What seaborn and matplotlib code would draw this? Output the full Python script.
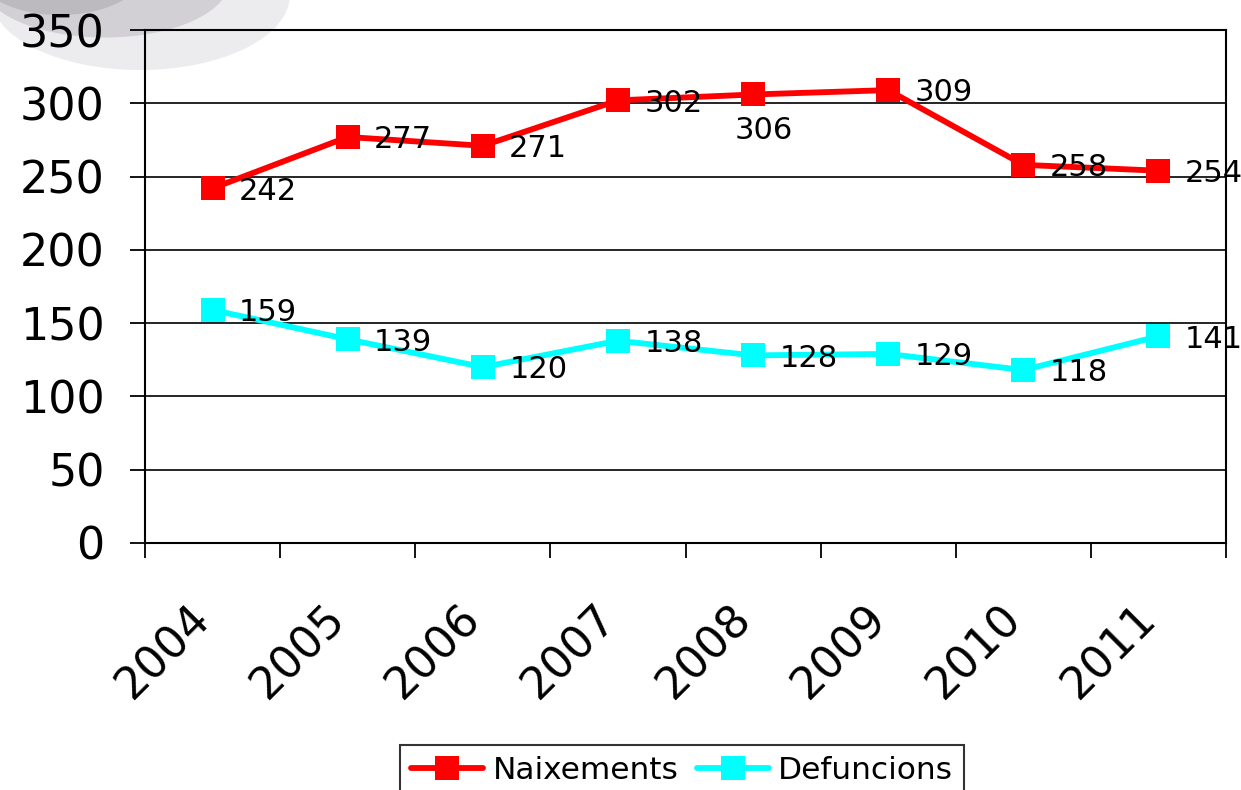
import numpy as np
import pandas as pd
import matplotlib
matplotlib.use("Agg")
import matplotlib.pyplot as plt
from matplotlib.patches import Ellipse
import seaborn as sns

years = [2004, 2005, 2006, 2007, 2008, 2009, 2010, 2011]
naixements = [242, 277, 271, 302, 306, 309, 258, 254]
defuncions = [159, 139, 120, 138, 128, 129, 118, 141]
series_names = ["Naixements", "Defuncions"]
y_ticks = [0, 50, 100, 150, 200, 250, 300, 350]

df = pd.DataFrame({
    "Any": years * 2,
    "Valor": naixements + defuncions,
    "Serie": [series_names[0]] * len(years) + [series_names[1]] * len(years),
})

sns.set_style("white")
plt.rcParams["font.family"] = ["DejaVu Sans"]
plt.rcParams["text.color"] = "black"
plt.rcParams["xtick.color"] = "black"
plt.rcParams["ytick.color"] = "black"
plt.rcParams["axes.labelcolor"] = "black"

fig = plt.figure(figsize=(12.41, 7.9), dpi=100)
ax = fig.add_axes([145/1241, 1 - 543/790, (1226-145)/1241, (543-30)/790])

# faint grey shape in the top-left corner (background watermark)
for cx, cy, w, h, c in [(140, -5, 300, 150, "#ecebee"), (105, -20, 250, 115, "#d2cfd5"),
                        (60, -30, 170, 90, "#bcb9bf")]:
    fig.patches.append(Ellipse((cx/1241, 1 - cy/790), w/1241, h/790,
                               transform=fig.transFigure, facecolor=c,
                               edgecolor="none", zorder=-5))

sns.lineplot(data=df, x="Any", y="Valor", hue="Serie",
             palette=["#ff0000", "#00ffff"], marker="s", markersize=17,
             markeredgewidth=0, linewidth=4.2, ax=ax, zorder=3)

ax.set_xlim(2003.5, 2011.5)
ax.set_ylim(0, 350)
ax.set_yticks(y_ticks)
ax.yaxis.grid(True, color="black", linewidth=1.2)
ax.set_axisbelow(True)
ax.set_xlabel("")
ax.set_ylabel("")
ax.patch.set_alpha(0)
for s in ax.spines.values():
    s.set_color("black")
    s.set_linewidth(1.5)

ax.set_xticks(years)
ax.set_xticks(np.arange(2003.5, 2012, 1), minor=True)
ax.tick_params(axis="x", which="major", length=0, pad=56, labelsize=32)
ax.tick_params(axis="x", which="minor", length=11, width=1.3, direction="out", bottom=True)
ax.tick_params(axis="y", length=11, width=1.3, direction="out", left=True, labelsize=32, pad=18)
ax.set_xticklabels([str(y) for y in years], rotation=45, ha="right", va="baseline",
                   rotation_mode="anchor")

# data labels
offsets_n = [(19, -2)] * len(years)
offsets_n[4] = (8, -26)
for x, v, off in zip(years, naixements, offsets_n):
    ax.annotate(str(v), (x, v), xytext=off, textcoords="offset points",
                ha="left" if off[0] > 10 else "center", va="center", fontsize=22)
for x, v in zip(years, defuncions):
    ax.annotate(str(v), (x, v), xytext=(19, -2), textcoords="offset points",
                ha="left", va="center", fontsize=22)

ax.legend(loc="upper center", bbox_to_anchor=(0.497, -0.394), ncol=2, frameon=True,
          fancybox=False, edgecolor="black", fontsize=22.5, handlelength=2.3,
          handletextpad=0.3, columnspacing=0.6, borderpad=0.35, borderaxespad=0)
leg = ax.get_legend()
leg.get_frame().set_linewidth(1.5)
leg.set_title(None)

fig.savefig("out.png", dpi=100)
